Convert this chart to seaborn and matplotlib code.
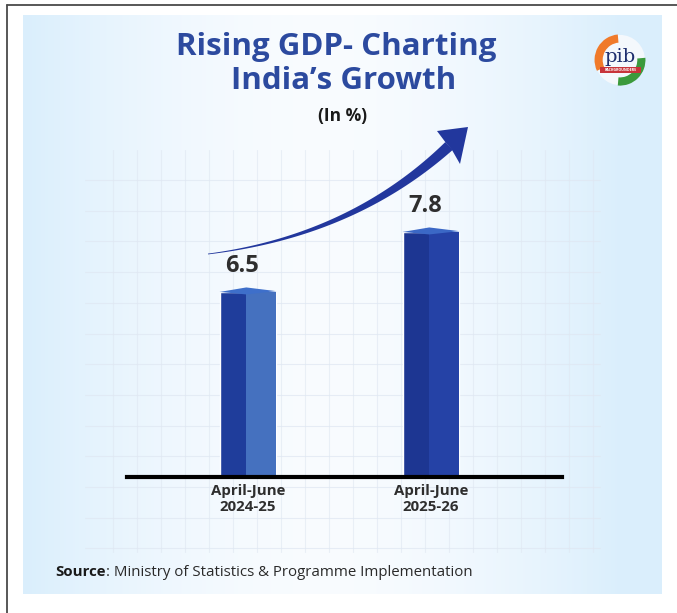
import numpy as np
import pandas as pd
import matplotlib
matplotlib.use("Agg")
import matplotlib.pyplot as plt
import seaborn as sns
from matplotlib.patches import Rectangle, Polygon, Wedge, Circle

# ---------------- data ----------------
periods = ["April-June\n2024-25", "April-June\n2025-26"]
gdp_growth = [6.5, 7.8]
value_labels = ["6.5", "7.8"]
title_lines = ["Rising GDP- Charting", "India\u2019s Growth"]
unit_label = "(In %)"
source_head = "Source"
source_body = ": Ministry of Statistics & Programme Implementation"

# ---------------- style ----------------
sns.set_theme(style="white")
plt.rcParams['font.family'] = ['Open Sans', 'DejaVu Sans']

front_colors = ["#1f3d9b", "#1d3692"]
side_colors = ["#4571bf", "#2542a6"]
cap_colors = ["#3e6fca", "#3b68c6"]
title_color = "#2c4a9f"
text_dark = "#2e2e2e"

W, H = 677, 613
fig = plt.figure(figsize=(W / 100, H / 100), dpi=100)
fig.patch.set_facecolor("white")

# ---------------- background layer (pixel coords) ----------------
bg = fig.add_axes([0, 0, 1, 1], zorder=0)
bg.axis("off")

cx0, cx1, cy0, cy1 = 23, 662, 15, 594
nx, ny = 320, 320
gx, gy = np.meshgrid(np.linspace(0, 1, nx), np.linspace(0, 1, ny))
d = np.clip(np.abs(gx - 0.47) / 0.47, 0, 1) ** 1.7
d = np.maximum(d, 0.75 * np.clip((gx - 0.62) / 0.38, 0, 1) * np.clip((gy - 0.25) / 0.75, 0, 1) ** 0.5)
light = np.array([0.975, 0.987, 1.0])
blue = np.array([0.855, 0.935, 0.99])
img = light + (blue - light) * d[..., None]
bg.imshow(img, extent=(cx0, cx1, cy1, cy0), aspect="auto", interpolation="bilinear", zorder=0)

# faint decorative grid
for k in range(21):
    gxp = 113 + 24 * k
    bg.plot([gxp, gxp], [150, 552], color="#dfe7f2", lw=0.8, alpha=0.6, zorder=1)
for k in range(13):
    gyp = 180 + 30.7 * k
    bg.plot([85, 600], [gyp, gyp], color="#dfe7f2", lw=0.8, alpha=0.7, zorder=1)

# outer frame lines
bg.plot([7, 7], [5, H], color="#4a4a4a", lw=1.3, zorder=2)
bg.plot([7, W], [5, 5], color="#4a4a4a", lw=1.3, zorder=2)

# growth arrow
t = np.linspace(0, 1, 120)
P0 = np.array([208.0, 254.0]); P1 = np.array([352.0, 236.0]); P2 = np.array([449.0, 146.0])
B = ((1 - t) ** 2)[:, None] * P0 + (2 * (1 - t) * t)[:, None] * P1 + (t ** 2)[:, None] * P2
dB = (2 * (1 - t))[:, None] * (P1 - P0) + (2 * t)[:, None] * (P2 - P1)
nrm = np.stack([-dB[:, 1], dB[:, 0]], axis=1)
nrm /= np.linalg.norm(nrm, axis=1)[:, None]
wdt = 0.8 + 10.0 * t ** 1.3
poly = np.vstack([B + nrm * wdt[:, None] / 2, (B - nrm * wdt[:, None] / 2)[::-1]])
bg.add_patch(Polygon(poly, closed=True, facecolor="#22379d", edgecolor="none", zorder=3))
bg.add_patch(Polygon([[468, 127], [437, 131], [446, 143], [452, 150], [460, 164]], closed=True,
                     facecolor="#22379d", edgecolor="none", zorder=3))

bg.set_xlim(0, W)
bg.set_ylim(H, 0)

# ---------------- chart ----------------
ax = fig.add_axes([127 / W, 1 - 477 / H, 435 / W, (477 - 150) / H], zorder=2)
ax.patch.set_alpha(0)
df = pd.DataFrame({"period": periods, "growth": gdp_growth})
sns.barplot(data=df, x="period", y="growth", hue="period", palette=front_colors,
            width=0.31, saturation=1, legend=False, ax=ax, zorder=3)

px = 1 / 46.15  # data units per pixel (vertical)
ax.set_xlim(-0.661, 1.716)
ax.set_ylim(2.49, 2.49 + 327 * px)

bars = [p for p in ax.patches if isinstance(p, Rectangle)]
for i, p in enumerate(bars):
    x0, w, h = p.get_x(), p.get_width(), p.get_height()
    split = x0 + 0.47 * w
    ax.add_patch(Rectangle((split, ax.get_ylim()[0]), x0 + w - split, h - ax.get_ylim()[0],
                           facecolor=side_colors[i], edgecolor="none", zorder=4))
    ax.add_patch(Polygon([[x0, h], [split, h + 4.5 * px], [x0 + w, h + 0.8 * px], [split, h - 2.5 * px]],
                         closed=True, facecolor=cap_colors[i], edgecolor="none", zorder=5))
    ax.annotate(value_labels[i], xy=(x0 + w / 2 - 0.03, h), xytext=(0, 10), textcoords="offset points",
                ha="center", va="bottom", fontsize=17, fontweight="bold", color=text_dark)

ax.set_xlabel("")
ax.set_ylabel("")
ax.set_yticks([])
ax.tick_params(axis="x", length=0, pad=5)
for lab in ax.get_xticklabels():
    lab.set_fontsize(10.8)
    lab.set_fontweight("bold")
    lab.set_color(text_dark)
    lab.set_linespacing(1.15)
for s in ["left", "right", "top"]:
    ax.spines[s].set_visible(False)
ax.spines["bottom"].set_color("black")
ax.spines["bottom"].set_linewidth(3)
ax.spines["bottom"].set_zorder(6)

# ---------------- texts ----------------
fig.text(336 / W, 1 - 47 / H, title_lines[0], ha="center", va="center",
         fontsize=22.5, fontweight="bold", color=title_color)
fig.text(344 / W, 1 - 81 / H, title_lines[1], ha="center", va="center",
         fontsize=22.5, fontweight="bold", color=title_color)
fig.text(343 / W, 1 - 116 / H, unit_label, ha="center", va="center",
         fontsize=12.5, fontweight="bold", color="#1a1a1a")

src = fig.text(55 / W, 1 - 572 / H, source_head, ha="left", va="center",
               fontsize=10.8, fontweight="bold", color="#1a1a1a")
bg.annotate(source_body, xy=(1, 0.5), xycoords=src, ha="left", va="center",
            fontsize=10.8, color="#2a2a2a")

# ---------------- logo ----------------
lg = fig.add_axes([592 / W, 1 - 92 / H, 56 / W, 64 / H], zorder=3)
lg.set_xlim(-1.1, 1.1)
lg.set_ylim(-1.25, 1.25)
lg.axis("off")
lg.add_patch(Circle((0, 0), 0.98, facecolor="#f4f8fc", edgecolor="none"))
lg.add_patch(Wedge((0, 0), 1.0, 95, 205, width=0.32, facecolor="#f07a2a", edgecolor="none"))
lg.add_patch(Wedge((0, 0), 1.0, -95, 5, width=0.32, facecolor="#3b9a3c", edgecolor="none"))
lg.text(0.02, 0.1, "pib", ha="center", va="center", fontsize=14, color="#1f2f6e",
        family=["DejaVu Serif"])
lg.add_patch(Rectangle((-0.78, -0.52), 1.6, 0.26, facecolor="#c8343a", edgecolor="none"))
lg.text(0.02, -0.39, "BACKGROUNDERS", ha="center", va="center", fontsize=2.6,
        color="white", fontweight="bold")

fig.savefig("out.png", dpi=100)
